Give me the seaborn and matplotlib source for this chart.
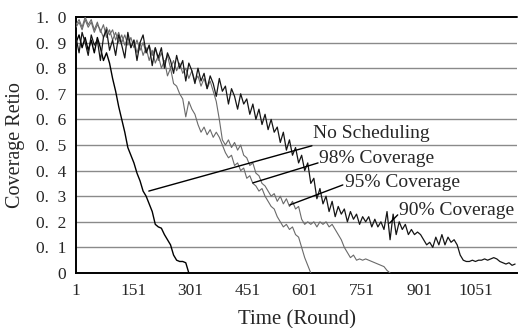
import numpy as np
import pandas as pd
import matplotlib
matplotlib.use("Agg")
import matplotlib.pyplot as plt
import seaborn as sns

step = 8
no_sched = [0.90, 0.93, 0.88, 0.92, 0.87, 0.91, 0.86, 0.92, 0.88, 0.83, 0.86, 0.82, 0.76, 0.71,
            0.65, 0.60, 0.55, 0.49, 0.46, 0.43, 0.39, 0.36, 0.32, 0.30, 0.27, 0.24, 0.19, 0.18,
            0.175, 0.15, 0.13, 0.11, 0.07, 0.05, 0.045, 0.045, 0.04, 0.0]

cov98 = [0.97, 0.99, 0.96, 1.0, 0.97, 0.99, 0.95, 0.98, 0.94, 0.97, 0.92, 0.95, 0.91, 0.94,
         0.90, 0.93, 0.89, 0.92, 0.88, 0.91, 0.86, 0.90, 0.85, 0.88, 0.83, 0.87, 0.82, 0.85,
         0.80, 0.83, 0.77, 0.80, 0.74, 0.73, 0.70, 0.68, 0.61, 0.67, 0.64, 0.62, 0.58, 0.55,
         0.57, 0.54, 0.56, 0.53, 0.55, 0.53, 0.50, 0.47, 0.45, 0.46, 0.42, 0.43, 0.40, 0.41,
         0.37, 0.38, 0.35, 0.34, 0.32, 0.33, 0.30, 0.28, 0.26, 0.25, 0.22, 0.20, 0.18, 0.19,
         0.17, 0.18, 0.15, 0.14, 0.10, 0.06, 0.03, 0.0]

cov95 = [0.96, 0.98, 0.95, 0.99, 0.96, 0.98, 0.94, 0.97, 0.95, 0.92, 0.96, 0.93, 0.95, 0.91,
         0.94, 0.90, 0.93, 0.89, 0.92, 0.88, 0.91, 0.87, 0.90, 0.86, 0.89, 0.85, 0.88, 0.83,
         0.86, 0.82, 0.85, 0.80, 0.83, 0.79, 0.82, 0.78, 0.80, 0.76, 0.79, 0.75, 0.77, 0.73,
         0.76, 0.72, 0.75, 0.71, 0.67, 0.60, 0.52, 0.50, 0.52, 0.49, 0.51, 0.48, 0.50, 0.46,
         0.45, 0.42, 0.43, 0.39, 0.38, 0.35, 0.34, 0.32, 0.30, 0.31, 0.28, 0.30, 0.27, 0.29,
         0.26, 0.28, 0.25, 0.26, 0.21, 0.19, 0.20, 0.19, 0.20, 0.18, 0.20, 0.19, 0.20, 0.18,
         0.19, 0.17, 0.15, 0.13, 0.10, 0.08, 0.06, 0.07, 0.05, 0.055, 0.05, 0.055, 0.05, 0.045,
         0.04, 0.035, 0.03, 0.025, 0.01, 0.0]

cov90 = [0.92, 0.86, 0.94, 0.90, 0.85, 0.93, 0.89, 0.91, 0.83, 0.92, 0.95, 0.87, 0.91, 0.85,
         0.93, 0.89, 0.84, 0.94, 0.88, 0.91, 0.83, 0.90, 0.93, 0.86, 0.89, 0.81, 0.88, 0.84,
         0.88, 0.80, 0.86, 0.83, 0.78, 0.85, 0.80, 0.83, 0.75, 0.82, 0.79, 0.74, 0.80, 0.75,
         0.78, 0.72, 0.77, 0.74, 0.69, 0.76, 0.71, 0.73, 0.66, 0.72, 0.69, 0.64, 0.70, 0.66,
         0.68, 0.62, 0.66, 0.60, 0.64, 0.58, 0.62, 0.56, 0.60, 0.55, 0.57, 0.51, 0.55, 0.48,
         0.52, 0.46, 0.49, 0.43, 0.46, 0.40, 0.43, 0.35, 0.37, 0.29, 0.33, 0.27, 0.30, 0.24,
         0.28, 0.22, 0.26, 0.23, 0.25, 0.20, 0.24, 0.21, 0.23, 0.19, 0.22, 0.20, 0.22, 0.18,
         0.21, 0.18, 0.20, 0.17, 0.24, 0.13, 0.23, 0.15, 0.20, 0.17, 0.19, 0.15, 0.17, 0.15,
         0.16, 0.15, 0.13, 0.11, 0.12, 0.10, 0.14, 0.11, 0.15, 0.11, 0.14, 0.12, 0.13, 0.11,
         0.07, 0.05, 0.045, 0.045, 0.05, 0.045, 0.05, 0.05, 0.055, 0.05, 0.055, 0.06, 0.055,
         0.045, 0.04, 0.035, 0.04, 0.03, 0.035]

series_names = ["No Scheduling", "98% Coverage", "95% Coverage", "90% Coverage"]
series_vals = [no_sched, cov98, cov95, cov90]
series_colors = ["#000000", "#6a6a6a", "#6a6a6a", "#151515"]
series_lw = [1.0, 0.8, 0.8, 0.9]

x_ticks = [1, 151, 301, 451, 601, 751, 901, 1051]
y_ticks = [0, 0.1, 0.2, 0.3, 0.4, 0.5, 0.6, 0.7, 0.8, 0.9, 1.0]
y_tick_labels = ["0", "0.  1", "0.  2", "0.  3", "0.  4", "0.  5", "0.  6", "0.  7",
                 "0.  8", "0.  9", "1.  0"]

# annotation: (label, point on curve (round, value), leader end, label anchor)
annotations = [
    ("No Scheduling", (192, 0.32), (620, 0.497), (622, 0.545)),
    ("98% Coverage", (465, 0.352), (636, 0.43), (638, 0.446)),
    ("95% Coverage", (562, 0.266), (701, 0.344), (706, 0.352)),
    ("90% Coverage", (824, 0.195), (845, 0.227), (848, 0.246)),
]

frames = []
for name, vals in zip(series_names, series_vals):
    rounds = 1 + step * np.arange(len(vals))
    frames.append(pd.DataFrame({"round": rounds, "value": vals, "series": name}))
df = pd.concat(frames, ignore_index=True)

sns.set_theme(style="white")
plt.rcParams["font.family"] = ["Liberation Serif", "DejaVu Serif"]

fig = plt.figure(figsize=(5.18, 3.28), dpi=100)
ax = fig.add_axes([76 / 518, 55 / 328, 441 / 518, 256 / 328])

for y in y_ticks[1:-1]:
    ax.axhline(y, color="#8a8a8a", lw=1.0, zorder=0)
ax.axhline(1.0, color="black", lw=1.4, zorder=0, clip_on=False)

order = [1, 2, 0, 3]
for i in order:
    name = series_names[i]
    sns.lineplot(data=df[df["series"] == name], x="round", y="value", ax=ax,
                 color=series_colors[i], lw=series_lw[i], estimator=None, legend=False,
                 zorder=3)

for label, pt, end, txt in annotations:
    ax.plot([pt[0], end[0]], [pt[1], end[1]], color="black", lw=1.0, zorder=4)
    ax.text(txt[0], txt[1], label, fontsize=14, va="center", ha="left", zorder=5)

ax.set_xlim(1, 1158)
ax.set_ylim(0, 1.0)
ax.set_xticks(x_ticks)
ax.set_xticklabels([str(t) for t in x_ticks], fontsize=12.5)
ax.set_yticks(y_ticks)
ax.set_yticklabels(y_tick_labels, fontsize=12.5)
ax.tick_params(axis="x", direction="in", length=4, width=0.8, pad=7, color="black")
ax.tick_params(axis="y", direction="out", length=3, width=0.8, pad=4, color="black")

for s in ["top", "right"]:
    ax.spines[s].set_visible(False)
for s in ["left", "bottom"]:
    ax.spines[s].set_color("black")
    ax.spines[s].set_linewidth(1.4)

ax.set_xlabel("Time (Round)", fontsize=15, labelpad=8)
ax.set_ylabel("Coverage Retio", fontsize=14.5, labelpad=8)

fig.savefig("out.png", dpi=100)
